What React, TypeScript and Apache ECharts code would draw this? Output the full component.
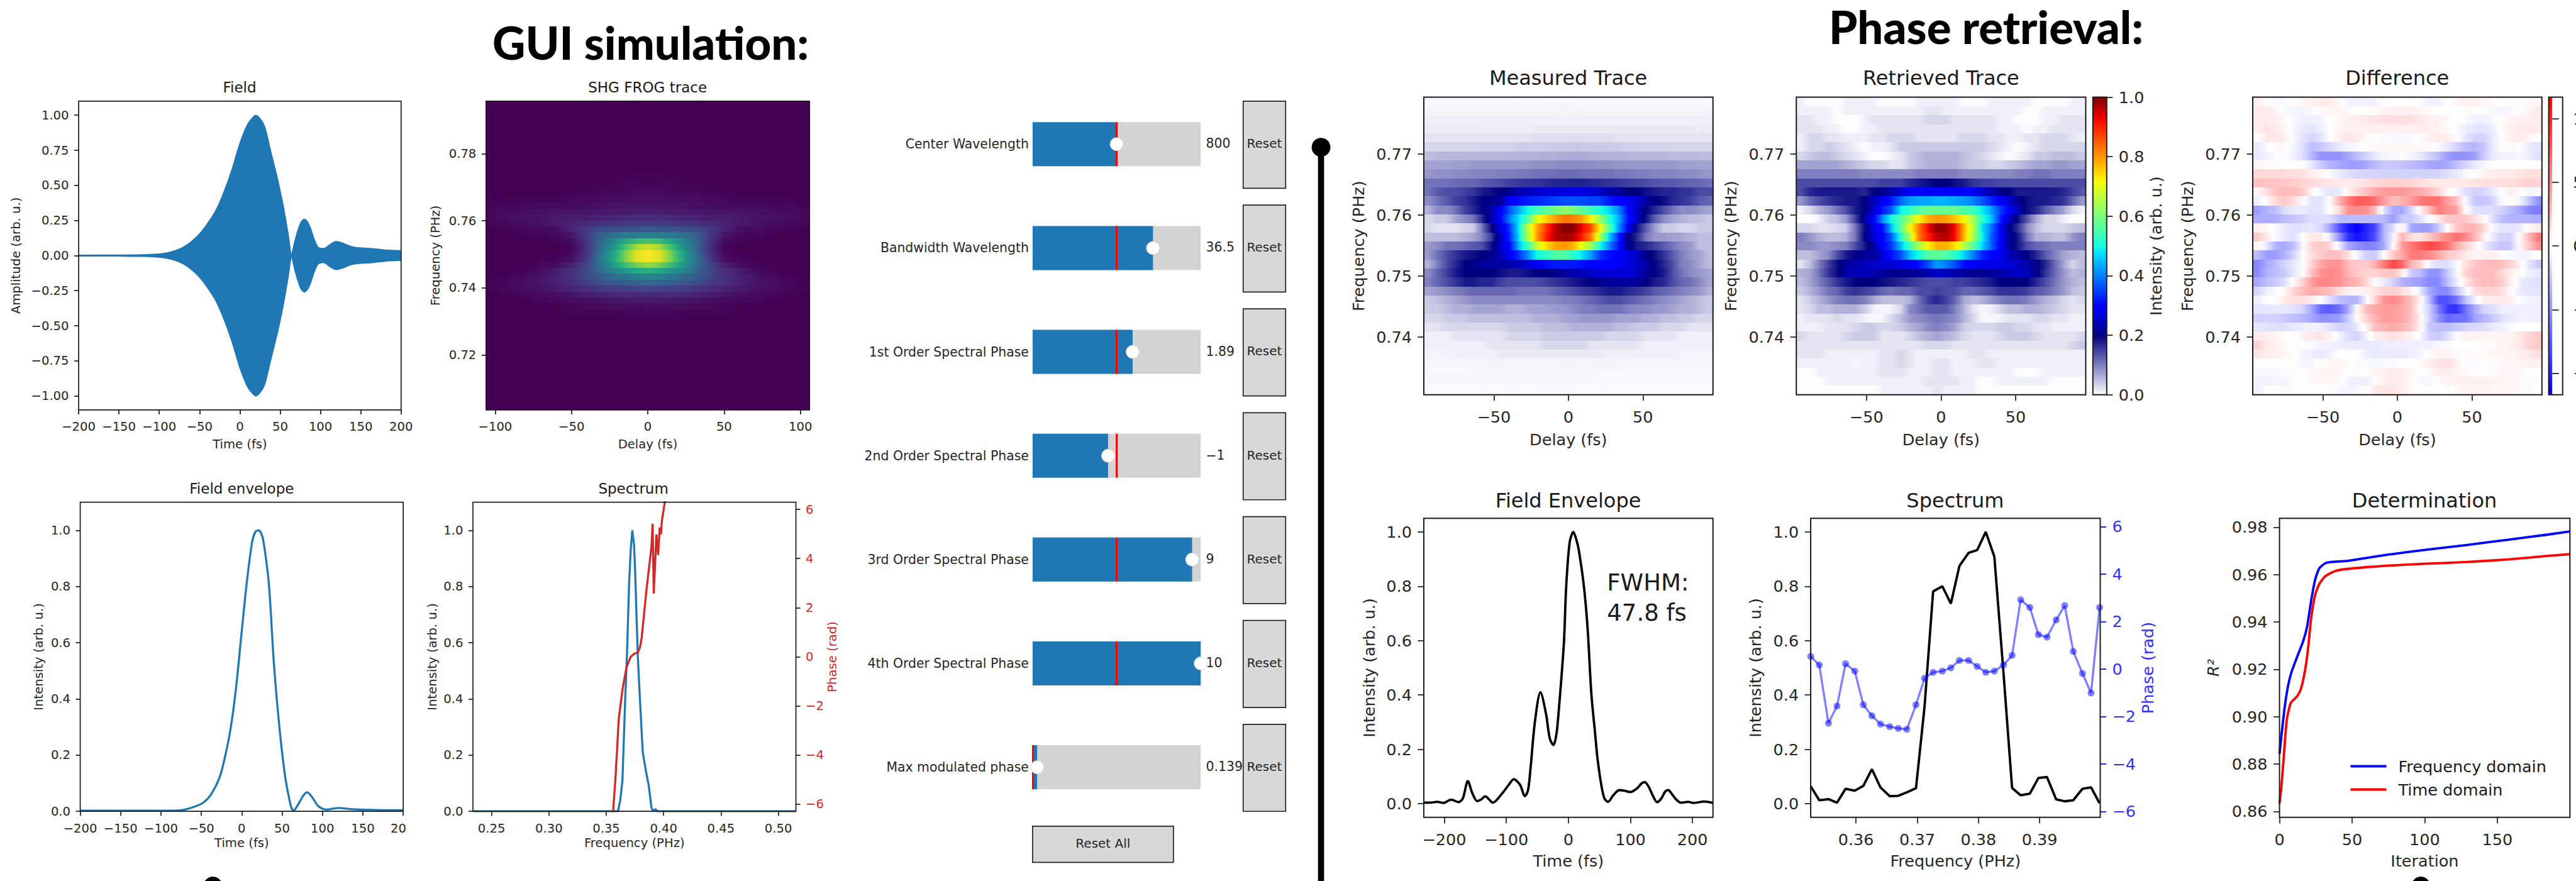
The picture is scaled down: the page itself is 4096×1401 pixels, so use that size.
import React, { useEffect, useRef } from "react";
import * as echarts from "echarts";

// ---------- GUI simulation data ----------
const fieldTimes = [-200,-150,-120,-100,-90,-80,-70,-60,-50,-40,-30,-20,-10,0,10,20,30,38,47,54,60,64,68,72,76,80,84,88,92,97,104,112,119,127,138,150,165,180,200];
const fieldAmps = [.003,.004,.006,.012,.02,.035,.06,.1,.155,.23,.32,.45,.61,.8,.94,1,.93,.75,.54,.35,.15,.01,.1,.18,.24,.26,.24,.19,.12,.06,.05,.08,.1,.09,.065,.055,.05,.04,.035];
const envTimes = [-200,-150,-100,-75,-60,-48,-38,-27.5,-21,-14,-7,0,6.5,13,17,20.7,24,27,33.6,40,47,54,60.8,64,71,76,81,88,95,105,120,135,149,176,200];
const envVals = [.002,.002,.002,.004,.015,.03,.06,.12,.19,.29,.44,.64,.82,.96,.995,1,.99,.96,.81,.52,.29,.12,.02,.002,.03,.055,.068,.047,.018,.006,.012,.008,.006,.004,.004];
const specFreqs = [.2338,.357,.3603,.3622,.3641,.3665,.368,.3699,.3713,.3727,.3742,.3751,.3775,.3799,.3818,.3847,.3871,.3894,.3909,.3928,.3947,.5153];
const specVals = [0,0,0,.04,.11,.4,.55,.81,.93,1,.95,.86,.55,.355,.21,.14,.09,.013,0,.008,0,0];
const phaseFreqs = [.356,.3579,.3594,.3608,.3641,.3675,.3713,.3746,.3775,.3794,.3809,.3847,.388,.3894,.3904,.3914,.3937,.3952,.3966,.3976,.3985,.4009,.4019];
const phaseVals = [-6.26,-5.03,-3.8,-2.57,-1.34,-.45,0,.13,.17,.39,.78,2.57,3.91,4.47,5.42,2.57,4.98,4.14,5.26,4.98,5.54,6.26,6.49];

const shgDelays = [-106,-90,-75,-60,-50,-40,-32,-24,-16,-8,0,8,16,24,32,40,50,60,75,90,106];
const shgFreqs = [.77335,.77159,.76982,.76806,.76629,.76453,.76276,.761,.75924,.75747,.75571,.75394,.75218,.75041,.74865,.74688,.74512,.74335,.74159,.73982,.73806,.73629,.73453,.73276,.731];
const shgRows = [
[0,0,0,0,0,0,0,0,0,1,1,1,0,0,0,0,0,0,0,0,0],
[0,0,0,0,0,0,0,1,1,1,1,1,1,1,0,0,0,0,0,0,0],
[0,0,0,0,0,1,1,1,1,2,2,2,1,1,1,1,0,0,0,0,0],
[0,0,0,0,1,1,2,2,2,3,3,3,2,2,2,1,1,0,0,0,0],
[0,1,1,1,2,2,3,3,4,4,4,4,4,3,3,2,2,1,1,1,0],
[1,2,2,3,3,4,4,5,5,5,6,5,5,5,4,4,3,3,2,2,1],
[2,3,4,5,5,6,6,7,7,8,8,8,7,7,6,6,5,5,4,3,2],
[2,4,5,7,8,8,9,10,11,12,12,12,11,10,9,8,8,7,5,4,2],
[1,2,4,7,10,12,14,15,16,17,18,17,16,15,14,12,10,7,4,2,1],
[0,1,2,4,10,17,22,25,26,27,28,27,26,25,22,17,10,4,2,1,0],
[0,0,1,2,6,17,29,37,40,42,43,42,40,37,29,17,6,2,1,0,0],
[0,0,0,1,3,15,31,44,58,67,71,67,58,44,31,15,3,1,0,0,0],
[0,0,0,0,1,14,33,48,68,85,93,85,68,48,33,14,1,0,0,0,0],
[0,0,0,0,2,15,35,54,76,95,100,95,76,54,35,15,2,0,0,0,0],
[0,0,0,1,4,18,37,56,77,94,99,94,77,56,37,18,4,1,0,0,0],
[0,0,1,3,9,21,36,51,66,78,84,78,66,51,36,21,9,3,1,0,0],
[0,0,2,7,13,22,33,43,52,60,63,60,52,43,33,22,13,7,2,0,0],
[0,1,4,9,14,21,28,34,39,43,45,43,39,34,28,21,14,9,4,1,0],
[0,2,5,9,13,18,23,27,30,32,33,32,30,27,23,18,13,9,5,2,0],
[0,2,4,7,10,13,16,18,19,20,21,20,19,18,16,13,10,7,4,2,0],
[0,1,2,4,6,8,9,11,12,12,13,12,12,11,9,8,6,4,2,1,0],
[0,0,1,2,3,4,5,6,6,7,7,7,6,6,5,4,3,2,1,0,0],
[0,0,0,1,1,2,2,3,3,3,4,3,3,3,2,2,1,1,0,0,0],
[0,0,0,0,1,1,1,1,1,2,2,2,1,1,1,1,1,0,0,0,0],
[0,0,0,0,0,0,0,0,1,1,1,1,1,0,0,0,0,0,0,0,0],
];

const sliderNames = ["Center Wavelength","Bandwidth Wavelength","1st Order Spectral Phase","2nd Order Spectral Phase","3rd Order Spectral Phase","4th Order Spectral Phase","Max modulated phase"];
const sliderFractions = [.5,.716,.595,.449,.949,1,.027];
const sliderInits = [.5,.5,.5,.5,.5,.5,.002];
const sliderTexts = ["800","36.5","1.89","\u22121","9","10","0.139"];

// ---------- Phase retrieval data ----------
const traceEdge = [-97,97];
const traceDelays = [-93.97,-87.91,-81.84,-75.78,-69.72,-63.66,-57.59,-51.53,-45.47,-39.41,-33.34,-27.28,-21.22,-15.16,-9.09,-3.03,3.03,9.09,15.16,21.22,27.28,33.34,39.41,45.47,51.53,57.59,63.66,69.72,75.78,81.84,87.91,93.97];
const traceFreqs = [.77856,.77708,.7756,.77412,.77264,.77116,.76969,.76821,.76673,.76525,.76377,.76229,.76081,.75933,.75786,.75638,.7549,.75342,.75194,.75046,.74898,.7475,.74603,.74455,.74307,.74159,.74011,.73863,.73715,.73567,.7342,.73272,.73124];
const measuredRows = [
[.2,.2,.2,.2,.2,.2,.2,.2,.2,.4,.4,.3,.4,.4,.4,.4,.4,.2,.3,.3,.4,.2,.2,.4,.3,.2,.2,.2,.2,.2,.2,.2],
[.6,.6,.6,.6,.6,.6,.6,.6,.6,.6,.6,.6,.6,.6,.6,.7,.7,.6,.6,.6,.6,.6,.6,.6,.6,.6,.6,.6,.6,.6,.6,.6],
[1,1,1,1,1,1,1,1,1,1,1,1,1,1,1,1,1,1,1,1,1,1,1,1,1,1,1,1,1,1,1,1],
[1.3,1.3,1.3,1.3,1.3,1.3,1.2,1.2,1.2,1.2,1.2,1.2,1.5,1.5,1.5,1.5,1.5,1.5,1.5,1.5,1.5,1.5,1.5,1.5,1.5,1.5,1.5,1.5,1.5,1.5,1.3,1.5],
[2,2,2,2,2,2,2,2,2,2,2,2,2.5,2.5,2.5,2.5,2.5,2.5,2.5,2.5,2.5,2,2,2,2,2,2,2,2,2,2,2],
[3,3,3,3,3,3,3.2,3.2,3.2,3.2,3.8,3.8,3.8,3.8,4,4,4.2,4.2,4,4,4,3.8,3.5,3.5,3.2,3.2,3.2,3,3,3,3,3],
[5,5.5,5.5,5.5,5.5,5.5,5.5,5.5,5.5,5.8,5.8,6,6,6.2,6.2,6.5,6.5,6.5,6.2,6,6,6,5.8,5.5,5.5,5.5,5.5,5.2,5.2,5.2,5.2,5],
[7,7,7,7.5,7.5,8,8,8,8,8,8,8.2,8.5,8.5,8.8,9,9,9,8.8,8.5,8.5,8.2,8,8,8,8,8,8,7.5,7.5,7,7],
[8,8.5,8.5,9,9,9.5,9.5,9.5,10,10,10.5,10.5,11,11,11.2,11.5,11.5,11.2,11,11,11,10.5,10.5,10,10,9.5,9.5,9.5,9,9,8.5,8],
[11,11,11,11.5,12,12,13,13.5,14,15,15.5,16,16,16.5,17,17,17.5,17.2,17,16.5,16,15.5,15,14.5,14,13.5,13,13,12.5,12,12,11],
[11,13,14,14,15,16,18,19,20,21,23,24,25,26,26,27,27,27,26,25,23,22,20,20,19,18,17,17,16,16,14,14],
[9,11,13,15,16,18,20,21,22,29,31,32,33,34,35,36,36,36,35,35,32,30,28,26,23,20,19,17,16,15,13,12],
[6,9,9,11,15,17,20,23,29,37,44,50,54,57,59,62,60,57,54,51,47,41,31,25,20,17,14,11,9,9,8,7],
[3,4,4,7,9,11,17,24,30,40,48,56,70,75,79,83,82,79,72,63,52,44,32,25,19,13,9,7,6,5,5,4],
[3,2,2,2,3,4,11,20,27,34,49,66,79,88,96,100,99,93,86,71,57,42,30,19,13,8,4,4,3,3,4,4],
[5,5,5,5,6,7,10,16,25,33,48,65,80,90,96,98,97,90,82,65,47,33,21,17,11,8,8,7,7,6,5,5],
[8,9,11,11,12,13,14,19,25,30,45,54,68,74,79,80,78,70,63,50,41,31,22,18,17,15,13,11,9,8,5,5],
[8,11,14,16,18,19,20,21,24,28,34,41,50,52,56,56,52,48,42,34,31,29,27,25,21,19,16,13,10,8,7,5],
[6,10,14,17,20,21,22,22,22,23,24,26,29,31,32,32,32,31,30,29,29,28,27,25,23,20,17,14,10,9,7,5],
[9,12,15,18,20,20,20,20,19,18,18,19,20,20,21,22,23,24,25,26,26,26,26,25,22,20,18,14,11,9,8,7],
[10,12,14,16,18,18,17,17,15,14,14,14,14,15,16,17,18,19,20,21,22,22,22,22,20,18,17,14,12,11,9,7],
[7,8,9,10,11,12,12,12,12,12,11,11,11,11,12,13,14,15,16,17,18,18,17,16,15,13,12,11,10,9,8,6],
[4,5,6,7,8,9,9,9,9,9,9,9,9,9,9,10,10,11,12,13,14,14,13,12,11,10,9,8,7,6,5,4],
[4,4,5,6,6,7,7,7,7,6,6,7,7,7,8,8,9,10,10,11,11,11,10,9,9,8,8,7,6,6,5,4],
[3,3,4,4,4,5,5,5,5,5,5,5,6,6,6,7,7,8,8,8,8,7,7,7,6,6,5,5,4,4,3,3],
[2,2,3,3,3,3,3,3,3,4,4,4,4,5,5,5,6,6,6,6,6,5,5,4,4,4,3,3,3,2,2,2],
[1,1,1,2,2,2,2,2,2,3,3,3,3,4,4,4,4,4,4,4,3,3,3,3,2,2,2,2,1,1,1,1],
[1,1,1,1,1,1,1,2,2,2,2,2,2,3,3,3,3,3,2,2,2,2,2,2,1,1,1,1,1,1,1,1],
[.8,.8,.8,1,1,1,1,1,1.5,1.5,1.5,1.5,1.5,1.5,1.5,1.5,1.5,1.5,1.5,1.5,1,1,1,1,1,1,1,1,.8,.8,.8,.8],
[.6,.6,.6,.6,.6,.7,.7,.8,.8,.8,.8,.8,.8,.8,.8,.8,.8,.8,.8,.7,.7,.7,.6,.6,.6,.6,.6,.6,.6,.6,.6,.6],
[.4,.4,.5,.5,.5,.5,.5,.5,.5,.5,.5,.5,.5,.5,.5,.6,.6,.5,.5,.5,.5,.5,.5,.5,.5,.5,.4,.4,.4,.4,.4,.4],
[.4,.4,.4,.4,.4,.4,.4,.4,.4,.4,.4,.4,.4,.4,.4,.4,.4,.4,.4,.2,.2,.2,.2,.2,.2,.2,.2,.2,.2,.2,.2,.2],
[.3,.1,.1,.1,.1,.1,.3,.1,.1,.3,.2,.1,.2,.2,.2,.3,.3,.1,.1,.2,.2,.1,.1,.1,.1,.1,.1,.1,.1,.1,.1,.1],
];
const retrievedRows = [
[1,0,0,0,0,1,1,1,1,0,0,0,0,1,1,1,1,1,0,0,0,1,1,1,1,1,0,0,0,0,1,1],
[1,1,1,1,0,1,1,1,1,1,1,1,1,1,2,2,1,1,1,1,1,1,1,1,1,0,0,1,1,1,1,1],
[2,2,1,1,0,0,0,1,2,2,2,2,2,2,3,3,3,2,2,2,2,2,1,1,0,0,0,1,1,2,2,2],
[2,2,2,1,1,0,0,1,1,2,2,2,2,2,2,2,2,2,2,2,2,2,1,1,1,0,1,1,2,2,2,2],
[1,3,3,2,2,1,1,1,2,2,3,3,3,2,2,2,2,2,3,3,3,2,2,1,1,2,2,3,3,3,2,1],
[1,3,3,4,3,2,1,0,1,1,2,4,4,4,4,4,4,4,4,4,4,3,2,1,0,1,2,3,3,3,3,3],
[3,4,5,5,4,3,2,1,0,0,1,2,4,5,6,6,6,6,5,4,3,2,1,0,1,2,4,4,5,5,5,4],
[7,7,7,7,7,6,5,4,3,3,2,2,4,5,6,6,6,6,5,4,4,3,3,4,5,6,7,7,8,8,7,7],
[10,10,10,10,10,10,10,9,9,9,9,9,9,10,10,10,10,10,9,9,9,9,9,9,10,10,11,11,10,10,10,10],
[14,14,14,14,14,14,14,14,14,15,15,15,17,18,19,20,20,19,18,16,15,15,14,14,14,14,14,14,14,14,14,14],
[14,17,18,18,18,18,18,17,20,21,23,26,28,29,30,30,30,30,29,28,26,23,21,20,18,18,18,18,18,17,15,13],
[8,12,14,16,17,18,18,20,24,28,32,38,42,43,43,44,44,43,42,40,37,33,29,26,21,19,18,18,17,16,12,8],
[1,3,6,8,11,14,18,20,26,32,37,49,52,56,58,58,58,58,56,54,49,43,35,29,24,19,17,13,10,7,3,1],
[0,0,1,4,5,8,15,22,29,41,50,56,64,72,78,80,79,76,72,64,52,46,33,25,19,13,7,3,3,1,0,0],
[3,3,2,2,3,4,11,19,27,31,45,57,70,82,92,99,98,92,78,66,48,40,29,21,16,9,5,3,3,3,4,5],
[10,8,6,5,5,6,11,20,26,30,37,52,64,82,90,96,97,92,78,64,50,38,30,22,18,11,6,6,5,5,8,10],
[9,9,8,8,9,10,14,18,22,30,34,45,54,64,72,78,78,74,66,57,47,38,29,22,18,14,12,11,10,10,10,10],
[5,5,7,9,14,18,20,22,22,26,31,36,45,50,56,57,56,52,47,40,33,30,28,24,22,20,17,13,10,7,6,5],
[2,5,10,15,19,22,23,24,25,26,26,27,28,31,36,42,40,36,31,29,27,27,27,26,25,23,21,17,12,7,3,5],
[6,7,11,16,19,23,24,24,23,22,21,21,21,22,23,25,24,23,22,21,21,22,23,24,25,24,21,16,12,8,5,6],
[5,7,10,13,16,18,20,20,20,19,18,17,16,15,14,14,14,15,15,16,17,18,20,20,20,20,17,14,11,8,6,5],
[4,6,8,11,12,15,16,15,14,12,11,12,12,14,14,15,14,14,12,12,13,14,16,16,16,15,13,12,10,8,5,4],
[2,4,6,8,10,11,11,10,7,5,5,5,6,11,15,17,15,12,7,5,6,8,10,11,11,10,8,6,5,3,2,3],
[2,3,5,5,6,6,6,4,1,.5,1,3,9,11,13,13,13,10,6,2,.5,1,3,5,5,6,6,5,4,3,2,2],
[1,2,2,2,3,2,2,1,.5,.5,3,5,8,9,10,11,10,9,6,3,.5,.5,1,2,2,2,3,3,2,2,1,1],
[1,1,1,2,2,2,3,4,4,3,3,4,6,7,9,10,9,7,4,3,3,3,4,4,3,3,2,2,1,1,1,1],
[3,2,2,2,2,3,4,4,4,2,2,2,3,5,6,7,6,5,3,2,2,2,3,4,4,4,3,2,2,2,2,3],
[2,2,2,2,2,2,2,2,2,2,2,2,2,2,3,3,3,2,2,2,2,2,2,2,2,2,2,2,2,2,3,4],
[2,2,2,1,1,1,1,1,1,2,2,3,2,1,1,1,1,1,1,2,2,1,1,1,1,1,1,1,1,1,1,1],
[1,1,1,1,1,1,.5,1,1,2,2,3,2,1,1,2,2,1,1,1,2,2,1,1,1,1,1,1,1,1,1,1],
[0,0,1,1,1,1,1,1,1,2,2,2,1,1,1,2,2,1,1,1,1,1,1,1,0,0,0,1,1,1,1,1],
[0,0,0,1,1,1,1,1,1,1,1,1,1,1,2,2,2,2,1,1,0,0,1,1,1,1,1,1,0,0,0,0],
[0,0,0,0,0,0,0,0,0,1,1,1,1,1,1,2,1,1,1,1,0,0,0,0,0,0,0,0,0,0,0,0],
];
const differenceRows = [
[.7,0,-.3,-.3,0,.5,.7,1,1,.3,-.5,-.7,-.7,-.5,-.2,0,0,0,-.2,-.7,-.7,0,.5,.7,.7,.5,.2,0,-.2,0,.2,.5],
[1,1,.5,-.3,-.5,-.5,-.3,.3,.5,.5,.3,0,0,.2,.5,.7,.7,.7,.5,.3,0,0,0,.2,.2,0,-.3,-.5,-.3,.2,.5,1],
[1,1,.8,.3,-.3,-.7,-.8,-.5,0,.4,.7,.8,1,1.2,1.4,1.5,1.5,1.4,1.1,.8,.6,.3,0,-.3,-.6,-.7,-.3,.2,.5,.7,.8,1],
[1,1.2,1,.5,-.5,-1,-1.2,-.8,0,.5,.7,.7,.7,.7,.6,.6,.7,.7,.8,.8,.6,.3,-.2,-.8,-1.2,-1.3,-.8,.2,.8,1,1,1],
[0,1,1.2,.8,-.3,-1.3,-2,-1.3,0,.7,1.2,1,.3,0,-.2,-.3,-.3,-.3,.2,.7,1,.8,.3,-1.2,-2,-2,-1,0,.8,1,.5,0],
[-1,-.3,.3,.3,-.5,-1.5,-3,-2.5,-1.8,-1,-.5,-.3,.2,.3,.3,.3,.3,.3,.3,.2,-.3,-1,-2,-3,-3.3,-2.8,-1,0,.2,.1,-.8,-1.3],
[-1,-.7,-.2,-.2,-.7,-1.5,-3.3,-5,-5,-5,-4,-3,-2,-1,-.5,-.3,-.2,-.5,-1,-2,-3,-4.5,-5,-5,-4.5,-2.5,-1,-.7,-.5,-.3,-.8,-1.5],
[.3,.3,.2,.1,.1,0,-1,-2.5,-3.5,-4,-4.5,-4.5,-4,-3.2,-2.5,-2.5,-2.8,-3,-3.5,-4,-4.3,-4,-3,-2,-1,-.5,0,0,0,0,0,0],
[1.8,1.8,1.8,1.7,1.5,1.3,.8,.5,-.2,-.8,-1.5,-1.8,-1.9,-2,-2,-2,-2,-2,-2,-2,-2,-1.5,-1,-.3,0,.5,.8,1,1,1.2,1.5,1.5],
[2.8,2.8,2.8,2.6,2.3,2,1.7,1.4,1.2,1,.9,1,1.4,1.7,2,2.2,2.2,2,1.5,1.2,1,1,1,1,1.2,1.4,1.4,1.5,1.5,1.8,2,2],
[.5,1.5,2.8,3.2,3,2.5,.5,-.5,-1.2,-1,.5,1.8,2.8,4,4.5,4.7,4.7,4.3,3.8,3,2,.3,-.3,-1.5,-2,-2,-1,0,.7,.3,-.5,-.3],
[-.8,.3,1.8,2.5,1.5,.3,-1.3,-1.3,0,3.5,6,7.5,7.5,6.5,4.5,2.8,3.5,4.5,6,6.5,6.5,4.5,3,-.3,-2.5,-2.7,-2,-.3,0,-.5,-2.5,-5],
[-4.5,-3.5,-3,-1.5,-1,-1,-1.3,-1.3,0,1.5,5,5.5,5,3,-1.2,-4,-4,-2,.5,3,6,5,4.5,0,-1.3,-1.5,-1.5,-2,-3,-4,-5.5,-6],
[-3.7,-3.7,-3.7,-3,-2.7,-2.2,-1.5,-1.5,-1.5,-3,-3.2,-3,-3,-3,-3.3,-4.5,-2.5,-2.5,-1.3,0,1,2.5,2.7,2.5,1.5,.5,-1.5,-3,-3.5,-3.5,-3.5,-3.7],
[.7,.3,-.3,-1,-1.5,-1.3,-1,-1.8,-4,-8,-10.5,-11.7,-10,-8.5,-3.5,-1.5,1,-4,-4.5,-4.5,-2.5,0,2.5,3.5,3.5,2,-.3,-1.2,-1.2,-1,.3,1],
[2.5,1,-.3,-1,-1.5,0,1,1,-1,-5,-9.5,-10.8,-10,-8,-3.5,-.5,3.5,1.5,1.2,2.5,4,5.5,6.5,5.5,3.5,1,-1,-2,-2,.2,3,6],
[.5,-1,-3.5,-4,-3,-.3,2,2.5,2,-.8,-4,-5,-5.7,-5.5,-4,0,4.5,6,7.5,8.5,7.8,6.5,4,2,.8,-.8,-2,-2.7,-2.5,.3,2.5,5],
[-3,-4.5,-4.5,-3.5,-2,0,1.5,2.5,3,2.8,1.5,-.5,-2.2,-2.5,0,2.5,4,6,6,5.5,4,2.5,2,1,.5,.7,.7,.3,-.3,-.5,-.5,0],
[-5.5,-4,-3,-2,-1,-.2,2,4,5,5,3,2.5,2.5,3.5,6,8.5,7,3.5,2,-.7,-1.5,-1.5,-.5,1.5,2.5,3,3.3,3,2,.7,-1,-2.5],
[-5.5,-3.5,-3,-2.5,-1,-.2,2.8,5,5.5,5,3.5,2.5,2,2,2.5,2.8,1,-2.5,-3,-5,-5,-2.5,-.5,2,3,3,3,2,.8,.3,-.7,-1],
[-4,-3,-2.5,-1.5,.5,2,4.5,5.5,5.5,5,4,3.5,2,0,-1,-2,-3.5,-4,-4.5,-5.5,-5.5,-3,-1,1,2.5,3,3,2.5,.7,-.7,-1.2,-1.5],
[-2,-.7,-.3,.3,2,3,4,3.5,3,1.5,.7,.5,.7,1.2,2,2.3,1.5,.7,-1,-4,-5.5,-5.5,-3,-.5,1.5,2,2,1.5,.3,-1,-1.2,-1.2],
[-.7,0,0,1,1.5,1.5,1,0,-1.5,-3,-3.5,-3.5,-.5,2,5,5.5,4.5,3,.5,-3,-8,-8,-6.5,-3,-.8,.8,1,1,.7,-.2,-.5,-.7],
[-1.2,-1.2,-1,-1,-1.3,-2,-4,-7,-7.5,-6.5,-4,0,3,4,4.5,4.5,4,3,0,-2,-6,-9,-9.5,-6.5,-4,-2,-1.5,-.8,-.8,-.7,-.7,-.8],
[-2,-2,-2,-2.5,-3,-3.3,-4,-5,-5,-4.5,-2.5,0,2,3.5,4.5,4.5,4,3,.5,-2,-5,-7,-6.5,-6.5,-4.5,-3.5,-2.5,-1.5,-1,-.7,-.7,-.7],
[-1.2,-1.2,-1.5,-1.5,-1,-.8,-.5,-.8,-1.3,-2,-2,-1,.5,3,3.5,4,3.5,2.5,.5,-2.5,-3,-3,-2.5,-2,-1.8,-1.5,-1,-.7,-.2,0,0,0],
[1,.7,.5,.2,-.2,.7,1,1.2,.7,-.5,-1.5,-2,-.7,.7,1,1.5,1,.7,-.3,-2,-2.5,-1.5,-.3,.8,.5,.5,.4,.5,.6,1,2,2.5],
[2,1,.7,.3,0,-.1,-.2,-.5,-.7,-.8,-1,-1,-1,-1,-.8,-.8,-.8,-.8,-.7,-.7,-.3,-.3,0,0,0,.2,.2,.5,.7,1,2,2.5],
[1.2,.8,.7,.5,.2,-.5,-.8,-1,-.7,0,0,0,-.7,-1,-1,-1,-1,-.7,-.5,.2,.5,.6,.2,.1,.2,.2,.5,.5,.5,.7,1,1.5],
[.1,.1,.1,.1,0,-.5,-.3,.2,.3,.5,.2,-.2,-.3,-.3,-.3,-.2,0,-.1,.3,.7,1.2,1.5,.7,-.2,-.3,0,.2,.3,.4,.5,.7,.7],
[-.3,-.3,-.3,-.2,-.1,.1,.3,.5,.5,.3,.1,-.2,.1,.5,.8,1,.8,.4,0,.2,.8,.8,.5,.3,.1,.1,.2,.3,.4,.3,0,0],
[-.7,-.6,-.5,-.5,-.2,.1,.3,.4,.4,.3,-.5,-.8,-.8,0,.7,1,.8,.3,-.4,-.5,.2,.5,.6,.7,.7,.7,.6,.5,.4,.3,.2,.2],
[-.7,0,0,.3,.2,.1,.1,0,-.1,-.3,-.5,-.5,0,1,1.2,1.2,.8,.1,-.1,-.1,0,0,.3,.5,.5,.5,.4,.4,.4,.3,.2,0],
];

const retEnvTimes = [-233,-222,-212,-201,-189,-177,-170,-162,-155,-147,-141,-134,-127,-122,-106,-96,-88,-78,-70,-65,-61,-54,-45,-36,-30,-24,-19,-15,-11,-7,-3.5,2,8,13,17,25,31,37,43,47,53,58,64,72,82,90,100,110,118,123,130,136,143,150,156,161,167,174,181,193,202,219,233];
const retEnvVals = [.004,.004,.007,.003,.015,.006,.02,.083,.04,.01,.015,.027,.014,.004,.04,.07,.09,.07,.028,.05,.13,.3,.41,.33,.24,.216,.26,.357,.47,.6,.8,.96,1,.97,.93,.8,.645,.405,.26,.165,.07,.02,.007,.03,.05,.048,.043,.055,.075,.08,.06,.03,.006,.02,.045,.05,.035,.015,.004,.007,.003,.008,.003];
const retSpecFreqs = [.3526,.354,.3555,.3569,.3583,.3598,.3612,.3626,.364,.3655,.3669,.3683,.3698,.3712,.3726,.3741,.3755,.3769,.3784,.3798,.3812,.3826,.3841,.3855,.3869,.3884,.3898,.3912,.3927,.3941,.3955,.397,.3984,.3998];
const retSpecVals = [.064,.013,.017,.004,.055,.048,.066,.127,.06,.028,.029,.042,.057,.357,.781,.8,.736,.875,.923,.933,1,.909,.48,.058,.031,.037,.095,.098,.016,.009,.013,.055,.06,.002];
const retPhaseVals = [.53,.17,-2.28,-1.56,.22,-.09,-1.51,-1.97,-2.32,-2.43,-2.5,-2.54,-1.51,-.39,-.14,-.09,.05,.36,.36,.11,-.14,-.09,.17,.57,2.92,2.59,1.45,1.34,2.07,2.67,.74,-.19,-1.01,2.59];
const detFreqIters = [0,1.7,3.6,5.6,8.1,12,16.2,19,21.8,24.6,27.4,31.6,35.8,45.5,59.5,73.5,101.4,129.3,157.3,185.2,200];
const detFreqVals = [.8843,.894,.904,.912,.9185,.925,.9317,.938,.949,.958,.9626,.9648,.9653,.9657,.967,.9683,.9705,.9725,.9747,.9769,.9782];
const detTimeIters = [0,1.4,3.1,5,7.8,12,14.8,17.6,19.6,21.8,24.6,27.4,31.6,38.5,45.5,59.5,73.5,101.4,129.3,157.3,185.2,200];
const detTimeVals = [.8633,.871,.8843,.8986,.9058,.9085,.9118,.9196,.9284,.9416,.9515,.956,.9593,.9615,.9623,.9631,.9637,.9646,.9653,.9664,.9679,.9686];

// ---------- colour scales ----------
const viridisStops: [number, string][] = [[0,"#440154"],[.1,"#482475"],[.2,"#414487"],[.3,"#355f8d"],[.4,"#2a788e"],[.5,"#21918c"],[.6,"#22a884"],[.7,"#44bf70"],[.8,"#7ad151"],[.9,"#bddf26"],[1,"#fde725"]];
const jetWhiteStops: [number, string][] = [[0,"#fdfdff"],[.2,"#00007f"],[.288,"#0000ff"],[.3,"#0000ff"],[.472,"#00dbff"],[.5,"#14ffe0"],[.712,"#f0ff08"],[.728,"#ffed00"],[.912,"#ff1200"],[.928,"#f20000"],[1,"#7f0000"]];
const bwrStops: [number, string][] = [[0,"#0000ff"],[.5,"#ffffff"],[1,"#ff0000"]];

const hexRgb = (h: string) => [parseInt(h.slice(1,3),16), parseInt(h.slice(3,5),16), parseInt(h.slice(5,7),16)];
function colourAt(stops: [number,string][], t: number) {
  const v = Math.max(0, Math.min(1, t));
  for (let i = 1; i < stops.length; i++) {
    if (v <= stops[i][0]) {
      const [a, ca] = stops[i-1], [b, cb] = stops[i];
      const f = (v - a) / (b - a), A = hexRgb(ca), B = hexRgb(cb);
      return `rgb(${A.map((c, k) => Math.round(c + (B[k]-c)*f)).join(",")})`;
    }
  }
  return stops[stops.length-1][1];
}
// A cell's fill runs from the colour of its left value to that of its right value, in three steps of the scale.
const cellFill = (stops: [number,string][], a: number, b: number) => ({
  type:"linear", x:0, y:0, x2:1, y2:0, global:false,
  colorStops:[0,.25,.5,.75,1].map((o) => ({ offset:o, color:colourAt(stops, a + (b-a)*o) })),
});

// ---------- layout (in full-size reference pixels) ----------
const S = 4096 / 4913;
const FONT = '"DejaVu Sans"';
const SMALL = 19.6, BIG = 25.5;
const panels: Record<string, number[]> = {
  field: [150,193,765,782], shg: [927,193,1544,782], env: [153,958,769,1547.5], spec: [902,958,1518,1547.5],
  sliders: [1969.4,176,2290,1562.5],
  measured: [2715.5,185.4,3267,753], retrieved: [3426,185.4,3978,753], cb1: [3991.6,185.4,4018,753],
  diff: [4296.5,185.4,4848,753], cb2: [4861,185.4,4887.5,753],
  renv: [2715.5,988.6,3267,1559], rspec: [3453.4,988.6,4005.6,1559], det: [4347.5,988.6,4901.4,1559],
};
const panelNames = Object.keys(panels);
const gi = (n: string) => panelNames.indexOf(n);

const fmt = (d: number) => (v: number) => (v < 0 ? "\u2212" : "") + Math.abs(v).toFixed(d);

function axis(kind: "x"|"y", panel: string, min: number, max: number, ticks: number[], dec: number, name: string, centerDist: number, big: boolean, extra: any = {}) {
  const fs = big ? BIG : SMALL;
  const color = extra.color || "#262626";
  const tickColor = extra.tickColor || "#1a1a1a";
  const isX = kind === "x";
  const margin = big ? (isX ? 22.5 : 19) : (isX ? 17 : 15.5);
  return {
    type: "value", gridIndex: gi(panel), min, max, scale: true,
    position: extra.position || (isX ? "bottom" : "left"),
    splitLine: { show: false },
    axisLine: { show: false, onZero: false },
    axisTick: { show: true, length: big ? 9.5 : 7, customValues: ticks, lineStyle: { color: tickColor, width: 1.7 } },
    axisLabel: { customValues: extra.labelValues || ticks, formatter: extra.formatter || fmt(dec), fontFamily: FONT, fontSize: fs, color, margin },
    name, nameLocation: "middle", nameGap: centerDist * S - fs * 0.6,
    nameTextStyle: { fontFamily: FONT, fontSize: fs, color, fontStyle: extra.italic ? "italic" : "normal" },
  };
}
const hiddenX = (panel: string, min = 0, max = 1) => ({ type: "value", gridIndex: gi(panel), min, max, show: false, axisLine: { onZero: false } });

const pairs = (a: number[], b: number[]) => a.map((v, i) => [v, b[i]]);

const axisX: Record<string, number> = {}, axisY: Record<string, number> = {};
panelNames.forEach((n, i) => { axisX[n] = i; axisY[n] = i; });

function cellSeries(panel: string, rows: number[][], scale: number, stops: [number,string][], offset = 0) {
  const data: number[][] = [];
  rows.forEach((row, r) => {
    const xs = [traceEdge[0], ...traceDelays, traceEdge[1]];
    const vs = [row[0], ...row, row[row.length-1]];
    for (let c = 0; c < xs.length-1; c++) data.push([xs[c], traceFreqs[r], vs[c]/scale+offset, xs[c+1], vs[c+1]/scale+offset]);
  });
  const dy = (traceFreqs[0] - traceFreqs[1]) / 2;
  return {
    type: "custom", xAxisIndex: axisX[panel], yAxisIndex: axisY[panel], coordinateSystem: "cartesian2d", data, progressive: 0, silent: true,
    encode: { x: 0, y: 1 }, z: 2,
    renderItem: (_: any, api: any) => {
      const a = api.coord([api.value(0), api.value(1) + dy]);
      const b = api.coord([api.value(3), api.value(1) - dy]);
      const x0 = Math.round(a[0]), y0 = Math.round(a[1]);
      return { type: "rect", shape: { x: x0, y: y0, width: Math.round(b[0]) - x0 + 1, height: Math.round(b[1]) - y0 + 1 }, style: { fill: cellFill(stops, api.value(2), api.value(4)) } };
    },
  };
}

function buildOption() {
  const grids = panelNames.map((n) => {
    const [x0, y0, x1, y1] = panels[n];
    return { left: x0*S, top: y0*S, width: (x1-x0)*S, height: (y1-y0)*S, show: n === "shg", backgroundColor: "#440154", borderWidth: 0 };
  });
  const delayT = [-50,0,50], traceF = [.74,.75,.76,.77], pct = [0,.2,.4,.6,.8,1];
  const xAxes: any[] = [
    axis("x","field",-200,200,[-200,-150,-100,-50,0,50,100,150,200],0,"Time (fs)",67,false),
    axis("x","shg",-106,106,[-100,-50,0,50,100],0,"Delay (fs)",67,false),
    axis("x","env",-200,200,[-200,-150,-100,-50,0,50,100,150,200],0,"Time (fs)",63,false,{ labelValues:[-200,-150,-100,-50,0,50,100,150,194], formatter:(v:number)=> v===194 ? "20" : fmt(0)(v) }),
    axis("x","spec",.2338,.5153,[.25,.3,.35,.4,.45,.5],2,"Frequency (PHz)",63,false),
    hiddenX("sliders"),
    axis("x","measured",-97,97,delayT,0,"Delay (fs)",88,true),
    axis("x","retrieved",-97,97,delayT,0,"Delay (fs)",88,true),
    hiddenX("cb1"),
    axis("x","diff",-97,97,delayT,0,"Delay (fs)",88,true),
    hiddenX("cb2"),
    axis("x","renv",-233,233,[-200,-100,0,100,200],0,"Time (fs)",86,true),
    axis("x","rspec",.3526,.3999,[.36,.37,.38,.39],2,"Frequency (PHz)",86,true),
    axis("x","det",0,200,[0,50,100,150],0,"Iteration",86,true),
  ];
  const yAxes: any[] = [
    axis("y","field",-1.1,1.1,[-1,-.75,-.5,-.25,0,.25,.5,.75,1],2,"Amplitude (arb. u.)",122,false),
    axis("y","shg",.7036,.7957,[.72,.74,.76,.78],2,"Frequency (PHz)",99,false),
    axis("y","env",0,1.1,pct,1,"Intensity (arb. u.)",81,false),
    axis("y","spec",0,1.1,pct,1,"Intensity (arb. u.)",80,false),
    { type:"category", gridIndex:gi("sliders"), inverse:true, data:sliderNames, axisLine:{show:false}, axisTick:{show:false}, splitLine:{show:false},
      axisLabel:{ fontFamily:FONT, fontSize:20.4, color:"#262626", margin:6 } },
    axis("y","measured",.7305,.7793,traceF,2,"Frequency (PHz)",128,true),
    axis("y","retrieved",.7305,.7793,traceF,2,"Frequency (PHz)",128,true),
    axis("y","cb1",0,1,pct,1,"Intensity (arb. u.)",96,true,{position:"right"}),
    axis("y","diff",.7305,.7793,traceF,2,"Frequency (PHz)",128,true),
    axis("y","cb2",-11.7,11.7,[-10,-5,0,5,10],0,"",0,true,{position:"right"}),
    axis("y","renv",-.05,1.05,pct,1,"Intensity (arb. u.)",107,true),
    axis("y","rspec",-.05,1.05,pct,1,"Intensity (arb. u.)",108,true),
    axis("y","det",.8575,.98375,[.86,.88,.9,.92,.94,.96,.98],2,"R\u00b2",129.5,true,{italic:true}),
  ];
  yAxes[9].axisLabel.margin = 33;
  yAxes[9].axisTick.length = 10.5;
  const specPhaseY = yAxes.length;
  yAxes.push(axis("y","spec",-6.29,6.29,[-6,-4,-2,0,2,4,6],0,"Phase (rad)",72,false,{position:"right",color:"#d62728"}));
  const rspecPhaseY = yAxes.length;
  yAxes.push(axis("y","rspec",-6.25,6.35,[-6,-4,-2,0,2,4,6],0,"Phase (rad)",92.8,true,{position:"right",color:"#3030ff",tickColor:"#0000ff"}));

  const line = (panel: string, data: number[][], color: string, width: number, extra: any = {}) => ({
    type:"line", xAxisIndex:axisX[panel], yAxisIndex:axisY[panel], data, symbol:"none", silent:true,
    lineStyle:{ color, width }, itemStyle:{ color }, ...extra,
  });

  const shgData: number[][] = [];
  shgRows.forEach((row, r) => row.forEach((v, c) => { if (c < row.length-1) shgData.push([shgDelays[c], shgFreqs[r], v/100, shgDelays[c+1], row[c+1]/100]); }));
  const shgDy = (shgFreqs[0]-shgFreqs[1])/2;

  const colorbar = (panel: string, lo: number, hi: number, stops: [number,string][]) => ({
    type:"custom", xAxisIndex:axisX[panel], yAxisIndex:axisY[panel], data:[[lo, hi]], silent:true,
    renderItem:(_:any, api:any) => {
      const a = api.coord([0, api.value(1)]), b = api.coord([1, api.value(0)]);
      return { type:"rect", shape:{ x:a[0], y:a[1], width:b[0]-a[0], height:b[1]-a[1] },
        style:{ fill:{ type:"linear", x:0, y:1, x2:0, y2:0, global:false, colorStops:stops.map(([o,c])=>({offset:o,color:c})) } } };
    },
  });

  const series: any[] = [
    line("field",pairs(fieldTimes,fieldAmps),"#1f77b4",1.6,{ smooth:.25, areaStyle:{ origin:-.006, color:"#1f77b4", opacity:1 } }),
    line("field",pairs(fieldTimes,fieldAmps.map(a=>-a)),"#1f77b4",1.6,{ smooth:.25, areaStyle:{ origin:.006, color:"#1f77b4", opacity:1 } }),
    {
      type:"custom", xAxisIndex:axisX.shg, yAxisIndex:axisY.shg, data:shgData, progressive:0, silent:true, encode:{x:0,y:1},
      renderItem:(_:any, api:any) => {
        const a = api.coord([api.value(0), api.value(1)+shgDy]), b = api.coord([api.value(3), api.value(1)-shgDy]);
        const y0 = Math.round(a[1]);
        return { type:"rect", shape:{ x:a[0], y:y0, width:b[0]-a[0]+0.6, height:Math.round(b[1])-y0+1 },
          style:{ fill:cellFill(viridisStops, api.value(2), api.value(4)) } };
      },
    },
    line("env",pairs(envTimes,envVals),"#1f77b4",3.3,{ smooth:.3 }),
    line("spec",pairs(specFreqs,specVals),"#1f77b4",3.3),
    { ...line("spec",pairs(phaseFreqs,phaseVals),"#d62728",3.3), yAxisIndex:specPhaseY },
    {
      type:"custom", xAxisIndex:axisX.sliders, yAxisIndex:axisY.sliders, silent:true,
      data:sliderFractions.map((f,i)=>[f,i,sliderInits[i]]),
      renderItem:(params:any, api:any) => {
        const r = api.value(1), c0 = api.coord([0,r]), c1 = api.coord([1,r]), cf = api.coord([api.value(0),r]), ci = api.coord([api.value(2),r]);
        const h = 84*S, top = c0[1]-h/2;
        return { type:"group", children:[
          { type:"rect", shape:{ x:c0[0], y:top, width:c1[0]-c0[0], height:h }, style:{ fill:"#d3d3d3" } },
          { type:"rect", shape:{ x:c0[0], y:top, width:cf[0]-c0[0], height:h }, style:{ fill:"#1f77b4" } },
          { type:"line", shape:{ x1:ci[0], y1:top, x2:ci[0], y2:top+h }, style:{ stroke:"#ff0000", lineWidth:3 } },
          { type:"circle", shape:{ cx:cf[0], cy:c0[1], r:10.4 }, style:{ fill:"#ffffff", stroke:"#dddddd", lineWidth:1 } },
          { type:"text", style:{ text:sliderTexts[params.dataIndex], x:c1[0]+10*S, y:c0[1]-1, fill:"#262626", font:`20.4px ${FONT}`, verticalAlign:"middle", align:"left" } },
        ] };
      },
    },
    cellSeries("measured",measuredRows,100,jetWhiteStops),
    cellSeries("retrieved",retrievedRows,100,jetWhiteStops),
    cellSeries("diff",differenceRows,23.4,bwrStops,.5),
    colorbar("cb1",0,1,jetWhiteStops),
    colorbar("cb2",-11.7,11.7,bwrStops),
    line("renv",pairs(retEnvTimes,retEnvVals),"#000000",3.8,{ smooth:.3 }),
    line("rspec",pairs(retSpecFreqs,retSpecVals),"#000000",3.8),
    { ...line("rspec",pairs(retSpecFreqs,retPhaseVals),"rgba(0,0,255,0.5)",3.4,{ symbol:"circle", symbolSize:11, showSymbol:true }), yAxisIndex:rspecPhaseY },
    line("det",pairs(detFreqIters,detFreqVals),"#0000ff",3.8,{ name:"Frequency domain", smooth:.2 }),
    line("det",pairs(detTimeIters,detTimeVals),"#ff0000",3.8,{ name:"Time domain", smooth:.2 }),
  ];

  const panelTitle = (text: string, xc: number, yc: number, big: boolean) => ({
    text, left:xc*S, top:yc*S, textAlign:"center", textVerticalAlign:"middle", padding:0,
    textStyle:{ fontFamily:FONT, fontSize: big ? 32 : 23, fontWeight:"normal", color:"#1a1a1a" },
  });
  const heading = (text: string, xc: number, yc: number) => ({
    text, left:xc*S, top:yc*S, textAlign:"center", textVerticalAlign:"middle", padding:0,
    textStyle:{ fontFamily:"Lato", fontSize:72.5, fontWeight:900, color:"#000000" },
  });
  const titles = [
    heading("GUI simulation:",1241,80), heading("Phase retrieval:",3788,50),
    panelTitle("Field",457,167,false), panelTitle("SHG FROG trace",1235,167,false),
    panelTitle("Field envelope",461,932,false), panelTitle("Spectrum",1208,932,false),
    panelTitle("Measured Trace",2991,149,true), panelTitle("Retrieved Trace",3702,149,true), panelTitle("Difference",4572,149,true),
    panelTitle("Field Envelope",2991,955,true), panelTitle("Spectrum",3729,955,true), panelTitle("Determination",4624,955,true),
  ];

  const frames = panelNames.filter(n=>n!=="sliders").map((n) => {
    const [x0,y0,x1,y1] = panels[n];
    const big = x0 > 2500;
    return { type:"rect", z:100, silent:true, shape:{ x:x0*S, y:y0*S, width:(x1-x0)*S, height:(y1-y0)*S },
      style:{ fill:"none", stroke:"#1a1a1a", lineWidth: big ? 2 : 1.7 } };
  });
  const button = (x0:number,y0:number,x1:number,y1:number,label:string) => ([
    { type:"rect", z:50, shape:{ x:x0*S,y:y0*S,width:(x1-x0)*S,height:(y1-y0)*S }, style:{ fill:"#d8d8d8", stroke:"#222222", lineWidth:1.7 } },
    { type:"text", z:51, style:{ text:label, x:(x0+x1)/2*S, y:(y0+y1)/2*S-2, align:"center", verticalAlign:"middle", fill:"#262626", font:`20px ${FONT}` } },
  ]);
  const rowIdx = [0,1,2,3,4,5,6];
  const graphicEls: any[] = [
    ...frames,
    ...rowIdx.flatMap((i)=>button(2371,193+198.1*i,2452,359+198.1*i,"Reset")),
    ...button(1969.4,1576,2238,1645,"Reset All"),
    { type:"rect", z:60, shape:{ x:2513.7*S, y:281*S, width:11.6*S, height:1400*S }, style:{ fill:"#000000" } },
    { type:"circle", z:60, shape:{ cx:2519.5*S, cy:281*S, r:18*S }, style:{ fill:"#000000" } },
    { type:"circle", z:60, shape:{ cx:406*S, cy:1690*S, r:18*S }, style:{ fill:"#000000" } },
    { type:"circle", z:60, shape:{ cx:4617*S, cy:1690*S, r:18*S }, style:{ fill:"#000000" } },
    { type:"text", z:60, style:{ text:"FWHM:", x:3065*S, y:1111*S, align:"left", verticalAlign:"middle", fill:"#1a1a1a", font:`37px ${FONT}` } },
    { type:"text", z:60, style:{ text:"47.8 fs", x:3065*S, y:1169*S, align:"left", verticalAlign:"middle", fill:"#1a1a1a", font:`37px ${FONT}` } },
  ];

  return {
    animation:false, backgroundColor:"#ffffff",
    title:titles, grid:grids, xAxis:xAxes, yAxis:yAxes, series,
    legend:{ data:["Frequency domain","Time domain"], orient:"vertical", left:4483*S, top:1446*S, padding:0, icon:"rect", itemWidth:57, itemHeight:4, itemGap:11, selectedMode:false, textStyle:{ fontFamily:FONT, fontSize:BIG, color:"#1a1a1a", padding:[0,0,0,14] } },
    graphic:{ elements:graphicEls },
  };
}

export default function App() {
  const ref = useRef<HTMLDivElement>(null);
  useEffect(() => {
    document.body.style.margin = "0";
    document.body.style.overflow = "hidden";
    const chart = echarts.init(ref.current!, undefined, { renderer:"svg", width:4096, height:1401 });
    chart.setOption(buildOption() as any);
    return () => chart.dispose();
  }, []);
  return <div ref={ref} style={{ width:4096, height:1401 }} />;
}
